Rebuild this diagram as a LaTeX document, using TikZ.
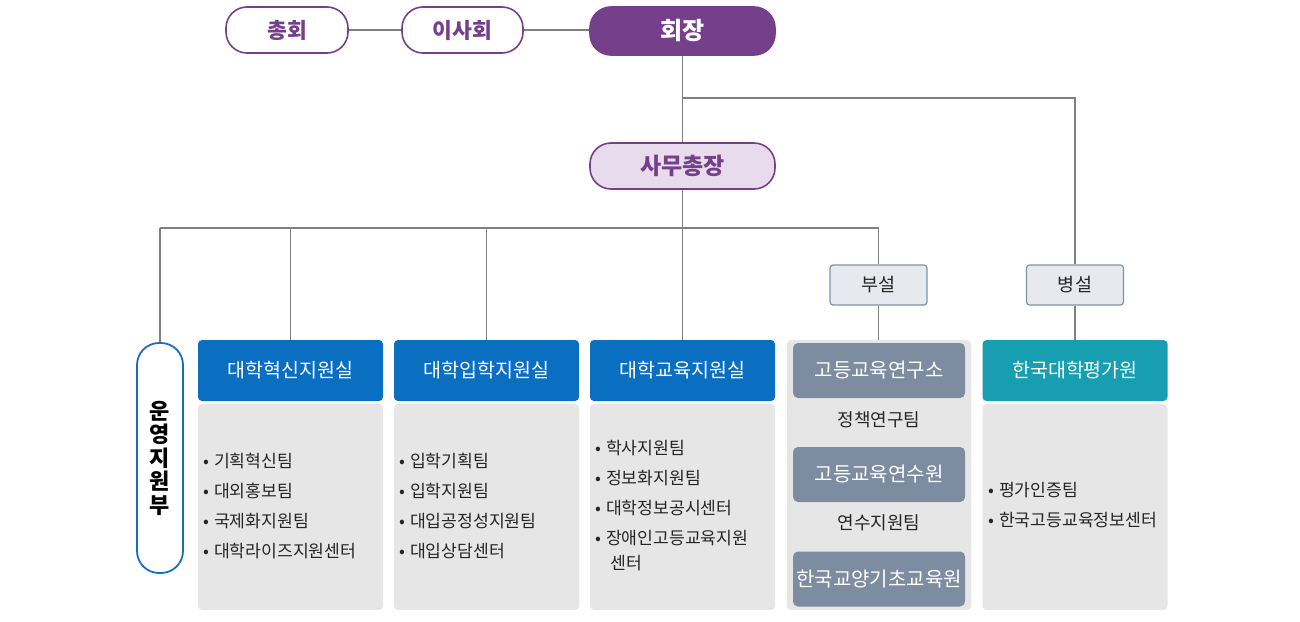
\documentclass[tikz,border=0pt]{standalone}
\usepackage{fontspec}
\setmainfont{Noto Sans CJK KR}
\newcommand{\itm}{•\hspace{5pt}}
\begin{document}
\begin{tikzpicture}[x=1pt,y=-1pt,
  conn/.style={draw=linegray,line width=1.4pt},
  toppill/.style={draw=purp,line width=1.6pt,fill=white,rounded corners=21pt,minimum height=46pt,text=purp,font=\bfseries\fontsize{21.5}{24}\selectfont,inner sep=0pt},
  chief/.style={toppill,fill=purp,text=white,minimum width=185pt,minimum height=48pt,font=\bfseries\fontsize{24}{26}\selectfont},
  sec/.style={toppill,fill=lav,text=purp,minimum width=185pt,font=\bfseries\fontsize{23}{26}\selectfont},
  tagbox/.style={draw=tagborder,line width=1.2pt,fill=tagfill,rounded corners=3pt,minimum width=97pt,minimum height=40pt,inner sep=0pt,font=\fontsize{18.5}{21}\selectfont,text=black!85},
  head/.style={fill=#1,rounded corners=4pt,minimum width=185pt,minimum height=61pt,inner sep=0pt,text=white,font=\fontsize{19.5}{22}\selectfont},
  body/.style={fill=bodygray,rounded corners=4pt,minimum width=185pt,minimum height=206pt,inner sep=0pt},
  inst/.style={fill=instblue,rounded corners=5pt,minimum width=172pt,minimum height=55pt,inner sep=0pt,text=white,font=\fontsize{20}{23}\selectfont},
  items/.style={anchor=north west,align=left,inner sep=0pt,font=\fontsize{17.2}{30}\selectfont,text=black!85},
  plain/.style={inner sep=0pt,font=\fontsize{18}{21}\selectfont,text=black!85}
]
\definecolor{purp}{HTML}{753F8C}
\definecolor{lav}{HTML}{E8DCEC}
\definecolor{linegray}{HTML}{808080}
\definecolor{tagborder}{HTML}{8391A4}
\definecolor{tagfill}{HTML}{E6E9EE}
\definecolor{hblue}{HTML}{0A6EC1}
\definecolor{teal}{HTML}{179FB1}
\definecolor{bodygray}{HTML}{E6E6E6}
\definecolor{instblue}{HTML}{7E8CA1}
\definecolor{opblue}{HTML}{1A6EC0}
\useasboundingbox (0,0) rectangle (1300,621);

% top level
\node[toppill,minimum width=122pt] (chonghoe) at (287,30) {총회};
\node[toppill,minimum width=121pt] (isahoe) at (462.5,30) {이사회};
\node[chief] (hoejang) at (682.5,31) {회장};
\node[sec] (samu) at (682.5,166) {사무총장};

% tags
\node[tagbox] (buseol) at (878.5,285) {부설};
\node[tagbox] (byeong) at (1075,285) {병설};

% operations pill
\node[draw=opblue,line width=1.8pt,fill=white,rounded corners=22pt,minimum width=46pt,minimum height=230pt,inner sep=0pt,align=center,font=\bfseries\fontsize{22}{23.5}\selectfont] (unyeong) at (160,458) {운\\영\\지\\원\\부};

% headers and bodies
\node[head=hblue] (h1) at (290.5,370.5) {대학혁신지원실};
\node[body] (b1) at (290.5,507) {};
\node[head=hblue] (h2) at (486.5,370.5) {대학입학지원실};
\node[body] (b2) at (486.5,507) {};
\node[head=hblue] (h3) at (682.5,370.5) {대학교육지원실};
\node[body] (b3) at (682.5,507) {};
\node[fill=bodygray,rounded corners=4pt,minimum width=184pt,minimum height=270pt,inner sep=0pt] (grp) at (879,475) {};
\node[head=teal] (h5) at (1075,370.5) {한국대학평가원};
\node[body] (b5) at (1075,507) {};

% institutes inside group
\node[inst] (i1) at (879,370.5) {고등교육연구소};
\node[plain] (t1) at (879,420) {정책연구팀};
\node[inst] (i2) at (879,474.5) {고등교육연수원};
\node[plain] (t2) at (879,523) {연수지원팀};
\node[inst] (i3) at (879,579) {한국교양기초교육원};

% item lists
\node[items] (l1) at (203,453) {\itm 기획혁신팀\\\itm 대외홍보팀\\\itm 국제화지원팀\\\itm 대학라이즈지원센터};
\node[items] (l2) at (399,453) {\itm 입학기획팀\\\itm 입학지원팀\\\itm 대입공정성지원팀\\\itm 대입상담센터};
\node[items] (l3) at (595,440) {\itm 학사지원팀\\\itm 정보화지원팀\\\itm 대학정보공시센터\\\itm 장애인고등교육지원};
\node[anchor=west,inner sep=0pt,font=\fontsize{17.2}{20}\selectfont,text=black!85] (l3b) at (610.5,563) {센터};
\node[items] (l5) at (988,482) {\itm 평가인증팀\\\itm 한국고등교육정보센터};

% connectors
\draw[conn] (chonghoe.east) -- (isahoe.west);
\draw[conn] (isahoe.east) -- (isahoe.east -| hoejang.west);
\coordinate (hj) at (682.5,98);
\coordinate (hjr) at (1075,98);
\draw[conn] (hoejang.south) -- (samu.north);
\draw[conn] (hj) -- (hjr) -- (byeong.north);
\coordinate (bar) at (682.5,228);
\coordinate (barL) at (160,228);
\coordinate (barR) at (878.5,228);
\draw[conn] (samu.south) -- (bar);
\draw[conn] (barL) -- (barR);
\draw[conn] (barL) -- (unyeong.north);
\draw[conn] (h1.north |- barL) -- (h1.north);
\draw[conn] (h2.north |- barL) -- (h2.north);
\draw[conn] (bar) -- (h3.north);
\draw[conn] (barR) -- (buseol.north);
\draw[conn] (buseol.south) -- (buseol.south |- grp.north);
\draw[conn] (byeong.south) -- (h5.north);
\end{tikzpicture}
\end{document}
